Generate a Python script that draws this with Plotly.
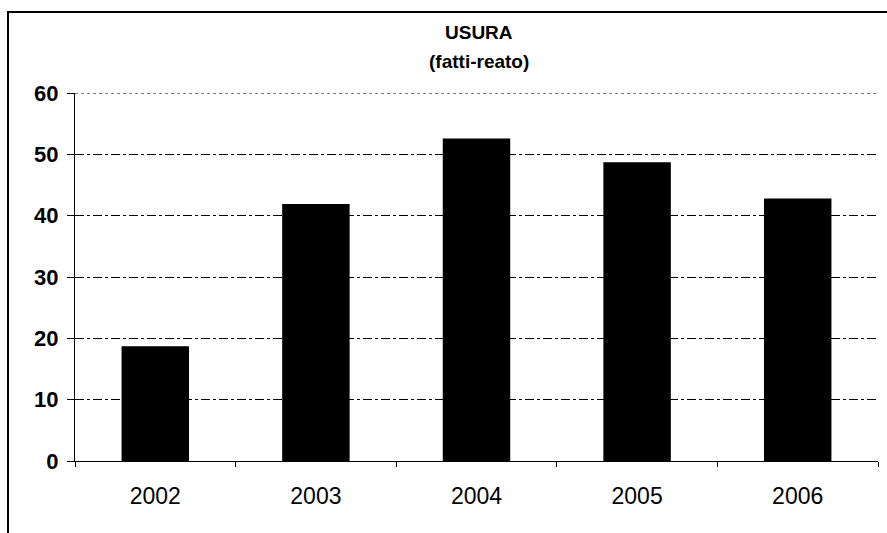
import plotly.graph_objects as go

years = ["2002", "2003", "2004", "2005", "2006"]
fatti_reato = [18.7, 41.9, 52.6, 48.7, 42.8]
y_ticks = [0, 10, 20, 30, 40, 50, 60]
title_lines = ["USURA", "(fatti-reato)"]

W, H = 887, 533
ml, mr, mt, mb = 75, 9, 93, 72
pw, ph = W - ml - mr, H - mt - mb

fig = go.Figure(
    go.Bar(
        x=years,
        y=fatti_reato,
        marker=dict(color="black", line=dict(width=0)),
        width=0.42,
    )
)

fig.update_layout(
    width=W,
    height=H,
    margin=dict(l=ml, r=mr, t=mt, b=mb),
    paper_bgcolor="white",
    plot_bgcolor="white",
    showlegend=False,
    font=dict(family="Liberation Sans, Arial, sans-serif", color="black"),
)

# two-line chart title
for text, ypix in zip(title_lines, [33, 62]):
    fig.add_annotation(
        text=f"<b>{text}</b>",
        xref="paper",
        yref="paper",
        x=(479 - ml) / pw,
        y=1 + (mt - ypix) / ph,
        xanchor="center",
        yanchor="middle",
        showarrow=False,
        font=dict(size=19, color="black"),
    )

fig.update_yaxes(
    range=[y_ticks[0], y_ticks[-1]],
    tickvals=y_ticks,
    ticktext=[f"<b>{v}</b>" for v in y_ticks],
    tickfont=dict(size=22),
    ticklabelstandoff=4,
    showgrid=True,
    gridcolor="black",
    gridwidth=1,
    griddash="dashdot",
    showline=True,
    linecolor="black",
    linewidth=1,
    ticks="outside",
    ticklen=7,
    tickcolor="black",
    zeroline=False,
)

fig.update_xaxes(
    tickfont=dict(size=23),
    ticklabelstandoff=14,
    showline=True,
    linecolor="black",
    linewidth=1,
    ticks="outside",
    tickson="boundaries",
    ticklen=5,
    tickcolor="black",
    showgrid=False,
)

# top gridline sits on the range edge, so draw it explicitly
fig.add_shape(
    type="line",
    xref="paper",
    yref="y",
    x0=0,
    x1=1,
    y0=y_ticks[-1],
    y1=y_ticks[-1],
    line=dict(color="black", width=1, dash="dot"),
    layer="below",
)

# outer chart frame, partly running off the page edges
fig.add_shape(
    type="rect",
    xref="paper",
    yref="paper",
    x0=(8 - ml) / pw,
    x1=(W + 5 - ml) / pw,
    y0=-(mb + 5) / ph,
    y1=1 + (mt - 12) / ph,
    line=dict(color="black", width=2),
    fillcolor="rgba(0,0,0,0)",
    layer="below",
)

fig.write_html("out.html")
